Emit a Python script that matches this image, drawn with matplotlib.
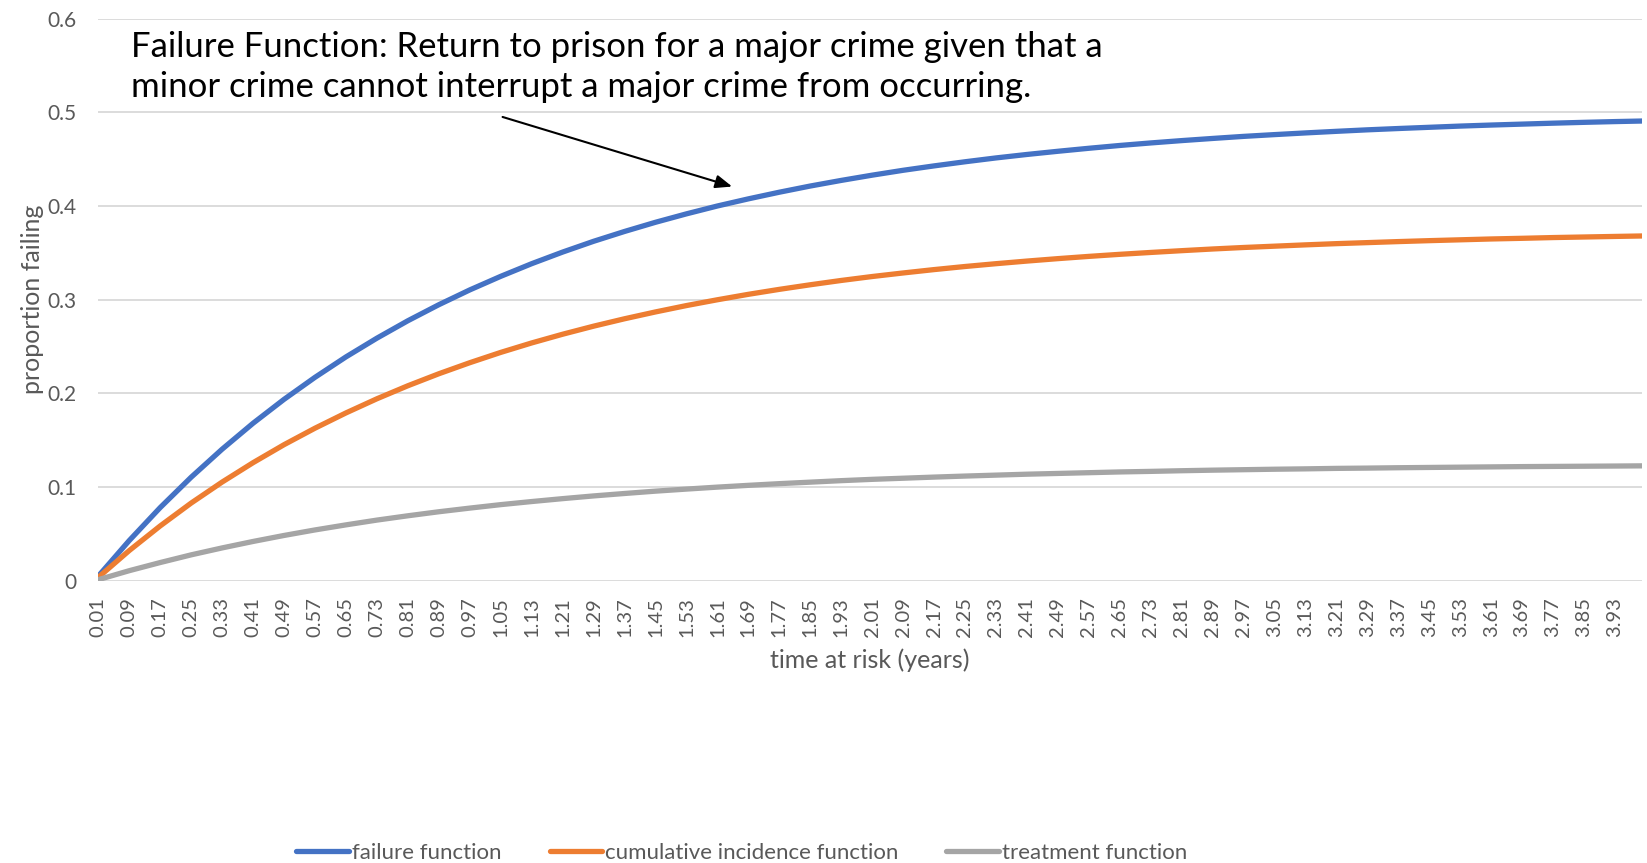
import matplotlib
matplotlib.use("Agg")
import matplotlib.pyplot as plt

# ---- data ----
time_labels = [0.01, 0.09, 0.17, 0.25, 0.33, 0.41, 0.49, 0.57, 0.65, 0.73,
               0.81, 0.89, 0.97, 1.05, 1.13, 1.21, 1.29, 1.37, 1.45, 1.53,
               1.61, 1.69, 1.77, 1.85, 1.93, 2.01, 2.09, 2.17, 2.25, 2.33,
               2.41, 2.49, 2.57, 2.65, 2.73, 2.81, 2.89, 2.97, 3.05, 3.13,
               3.21, 3.29, 3.37, 3.45, 3.53, 3.61, 3.69, 3.77, 3.85, 3.93]
time_points = time_labels + [4.00]

failure = [0.0050, 0.0430, 0.0782, 0.1106, 0.1405, 0.1682, 0.1937, 0.2172, 0.2390, 0.2590,
           0.2776, 0.2947, 0.3105, 0.3250, 0.3385, 0.3509, 0.3624, 0.3729, 0.3827, 0.3917,
           0.4001, 0.4077, 0.4148, 0.4214, 0.4274, 0.4330, 0.4382, 0.4429, 0.4473, 0.4514,
           0.4551, 0.4585, 0.4617, 0.4647, 0.4674, 0.4699, 0.4722, 0.4744, 0.4763, 0.4781,
           0.4798, 0.4814, 0.4828, 0.4841, 0.4854, 0.4865, 0.4875, 0.4885, 0.4894, 0.4902,
           0.4908]
cumulative = [0.0037, 0.0323, 0.0586, 0.0830, 0.1054, 0.1261, 0.1453, 0.1629, 0.1792, 0.1943,
              0.2082, 0.2210, 0.2328, 0.2438, 0.2539, 0.2632, 0.2718, 0.2797, 0.2870, 0.2938,
              0.3000, 0.3058, 0.3111, 0.3160, 0.3206, 0.3248, 0.3286, 0.3322, 0.3355, 0.3385,
              0.3413, 0.3439, 0.3463, 0.3485, 0.3505, 0.3524, 0.3542, 0.3558, 0.3572, 0.3586,
              0.3599, 0.3610, 0.3621, 0.3631, 0.3640, 0.3649, 0.3656, 0.3664, 0.3670, 0.3676,
              0.3681]
treatment = [0.0012, 0.0108, 0.0195, 0.0277, 0.0351, 0.0420, 0.0484, 0.0543, 0.0597, 0.0648,
             0.0694, 0.0737, 0.0776, 0.0813, 0.0846, 0.0877, 0.0906, 0.0932, 0.0957, 0.0979,
             0.1000, 0.1019, 0.1037, 0.1053, 0.1069, 0.1083, 0.1095, 0.1107, 0.1118, 0.1128,
             0.1138, 0.1146, 0.1154, 0.1162, 0.1168, 0.1175, 0.1181, 0.1186, 0.1191, 0.1195,
             0.1200, 0.1203, 0.1207, 0.1210, 0.1213, 0.1216, 0.1219, 0.1221, 0.1223, 0.1225,
             0.1227]
series_names = ["failure function", "cumulative incidence function", "treatment function"]
y_ticks = [0, 0.1, 0.2, 0.3, 0.4, 0.5, 0.6]
annotation_text = ("Failure Function: Return to prison for a major crime given that a\n"
                   "minor crime cannot interrupt a major crime from occurring.")

# ---- style ----
plt.rcParams['font.family'] = ['Lato', 'DejaVu Sans']
colors = ["#4472C4", "#ED7D31", "#A5A5A5"]
txt_gray = "#595959"
grid_gray = "#D9D9D9"

fig = plt.figure(figsize=(16.47, 8.63), dpi=100)
ax = fig.add_axes([0.0597, 0.327, 0.9373, 0.6513])

for vals, name, c in zip([failure, cumulative, treatment], series_names, colors):
    ax.plot(time_points, vals, color=c, lw=3.8, solid_capstyle='round',
            solid_joinstyle='round', label=name, zorder=3)

ax.set_xlim(time_points[0], time_points[-1])
ax.set_ylim(0, 0.6)
ax.set_yticks(y_ticks)
ax.set_yticklabels([f"{v:g}" for v in y_ticks])
ax.set_xticks(time_labels)
ax.set_xticklabels([f"{v:.2f}" for v in time_labels], rotation=90)

for s in ax.spines.values():
    s.set_visible(False)
ax.grid(axis='y', color=grid_gray, lw=1.3)
ax.set_axisbelow(True)
ax.tick_params(axis='both', length=0, colors=txt_gray)
ax.tick_params(axis='y', pad=16, labelsize=15)
ax.tick_params(axis='x', pad=12, labelsize=14.5)

ax.set_xlabel("time at risk (years)", color=txt_gray, fontsize=18, labelpad=8)
ax.set_ylabel("proportion failing", color=txt_gray, fontsize=18, labelpad=2)

ax.annotate("", xy=(1.655, 0.420), xytext=(1.048, 0.496),
            arrowprops=dict(arrowstyle="-|>,head_length=1.0,head_width=0.4",
                            color="black", lw=1.5), zorder=4)
fig.text(0.0795, 0.922, annotation_text, fontsize=25, color="black",
         ha='left', va='center', linespacing=1.3)

leg = fig.legend(loc='center', bbox_to_anchor=(0.4505, 0.012), ncol=3,
                 frameon=False, fontsize=16, handlelength=2.36,
                 columnspacing=2.15, handletextpad=0.15)
for t in leg.get_texts():
    t.set_color(txt_gray)

fig.savefig("out.png", dpi=100)
